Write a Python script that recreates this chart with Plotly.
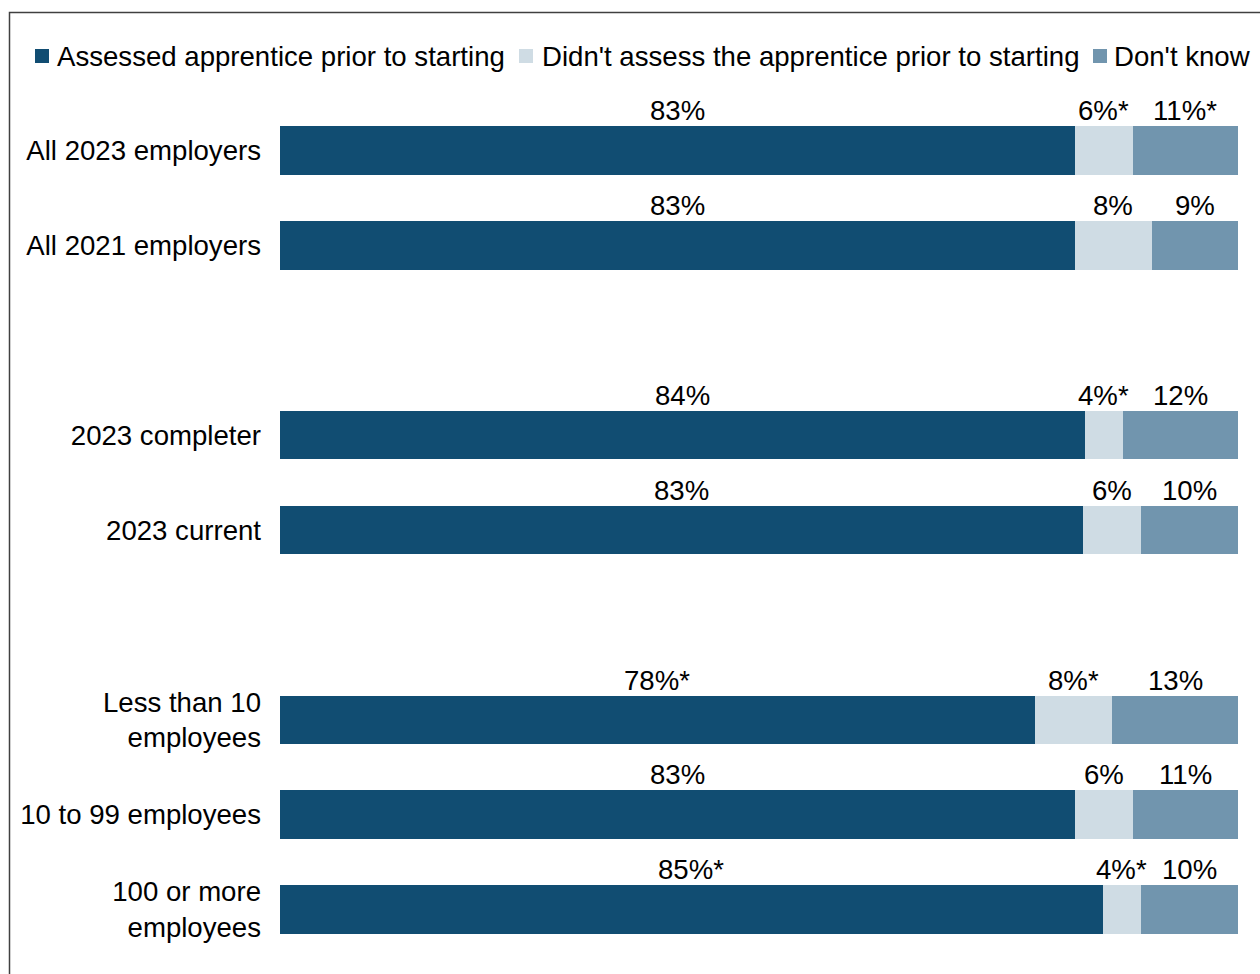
import plotly.graph_objects as go

# ---- data -------------------------------------------------------------
categories = [
    "All 2023 employers",
    "All 2021 employers",
    "2023 completer",
    "2023 current",
    "Less than 10<br>employees",
    "10 to 99 employees",
    "100 or more<br>employees",
]
group_sizes = [2, 2, 3]  # rows per block; blocks separated by one empty slot

assessed = [83, 83, 84, 83, 78, 83, 85]
not_assessed = [6, 8, 4, 6, 8, 6, 4]
dont_know = [11, 9, 12, 10, 13, 11, 10]

assessed_labels = ["83%", "83%", "84%", "83%", "78%*", "83%", "85%*"]
not_assessed_labels = ["6%*", "8%", "4%*", "6%", "8%*", "6%", "4%*"]
dont_know_labels = ["11%*", "9%", "12%", "10%", "13%", "11%", "10%"]

series_names = [
    "Assessed apprentice prior to starting",
    "Didn't assess the apprentice prior to starting",
    "Don't know",
]
colors = ["#114D72", "#CFDCE4", "#7195AE"]

# ---- styling ----------------------------------------------------------
FONT = "Liberation Sans, Arial, sans-serif"
FS = 27.6
W, H = 1260, 974
M_L, M_R, M_T, M_B = 280, 22, 103, 17
PLOT_W = W - M_L - M_R
PLOT_H = H - M_T - M_B

# slot positions: empty slot between blocks
positions = []
slot = 0
for n in group_sizes:
    for _ in range(n):
        positions.append(slot)
        slot += 1
    slot += 1
last_slot = positions[-1]

BARGAP = 0.49
half_bar = (1 - BARGAP) / 2


def px_x(px):
    return (px - M_L) / PLOT_W


def px_y(py):
    return (H - M_B - py) / PLOT_H


fig = go.Figure()
for name, vals, col in zip(series_names, [assessed, not_assessed, dont_know], colors):
    fig.add_trace(go.Bar(
        y=positions, x=vals, name=name, orientation="h",
        marker=dict(color=col, line=dict(width=0)),
        showlegend=False, hoverinfo="skip",
    ))

# value labels above each segment (positions follow the percent-normalised stack)
annotations = []
for i, pos in enumerate(positions):
    vals = [assessed[i], not_assessed[i], dont_know[i]]
    labels = [assessed_labels[i], not_assessed_labels[i], dont_know_labels[i]]
    total = sum(vals)
    start = 0.0
    for v, lab in zip(vals, labels):
        share = 100 * v / total
        annotations.append(dict(
            x=start + share / 2, y=pos - half_bar, xref="x", yref="y",
            text=lab, showarrow=False, xanchor="center", yanchor="bottom",
            font=dict(family=FONT, size=FS, color="#000000"),
            borderpad=0, yshift=-1,
        ))
        start += share

# legend drawn as swatches + text
legend_items = [(35, 56), (519, 541), (1093, 1113)]
shapes = []
for (sx, tx), name, col in zip(legend_items, series_names, colors):
    shapes.append(dict(
        type="rect", xref="paper", yref="paper",
        x0=px_x(sx), x1=px_x(sx + 14), y0=px_y(63), y1=px_y(49),
        fillcolor=col, line=dict(width=0),
    ))
    annotations.append(dict(
        x=px_x(tx), y=px_y(56), xref="paper", yref="paper",
        text=name, showarrow=False, xanchor="left", yanchor="middle",
        font=dict(family=FONT, size=FS, color="#000000"), borderpad=0,
    ))

# outer frame (left and top edges)
shapes.append(dict(
    type="path", xref="paper", yref="paper",
    path=(f"M {px_x(9.5)} {px_y(990)} L {px_x(9.5)} {px_y(12.5)} "
          f"L {px_x(1280)} {px_y(12.5)}"),
    line=dict(color="#404040", width=1.5),
))

fig.update_layout(
    width=W, height=H,
    barmode="stack", barnorm="percent", bargap=BARGAP,
    margin=dict(l=M_L, r=M_R, t=M_T, b=M_B),
    paper_bgcolor="white", plot_bgcolor="white",
    font=dict(family=FONT, size=FS, color="#000000"),
    showlegend=False,
    annotations=annotations, shapes=shapes,
    xaxis=dict(range=[0, 100], visible=False, fixedrange=True),
    yaxis=dict(
        range=[last_slot + 0.5, -0.5], tickmode="array",
        tickvals=positions, ticktext=categories,
        showgrid=False, zeroline=False, showline=False, ticks="",
        ticklabelstandoff=18,
        tickfont=dict(family=FONT, size=FS, color="#000000"),
        fixedrange=True,
    ),
)

fig.write_html("out.html", config={"displayModeBar": False})
